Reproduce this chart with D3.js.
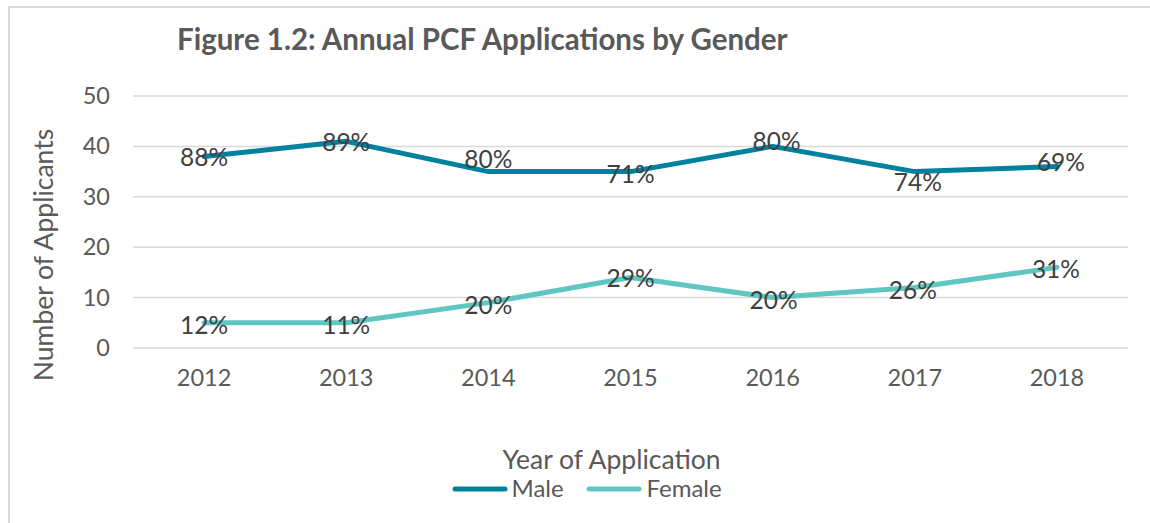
<!DOCTYPE html>
<html><head><meta charset="utf-8">
<script src="https://cdn.jsdelivr.net/npm/d3@7/dist/d3.min.js"></script>
<style>
html,body{margin:0;padding:0;background:#fff;}
svg{display:block;font-family:Lato,"Open Sans",sans-serif;}
</style></head>
<body>
<svg id="chart" width="1150" height="523"></svg>
<script>
const years = ["2012","2013","2014","2015","2016","2017","2018"];
const male = [38,41,35,35,40,35,36];
const female = [5,5,9,14,10,12,16];
const maleLabels = ["88%","89%","80%","71%","80%","74%","69%"];
const femaleLabels = ["12%","11%","20%","29%","20%","26%","31%"];
const yTicks = [0,10,20,30,40,50];
const seriesNames = ["Male","Female"];
const colors = ["#00819e","#5fc6c2"];

const svg = d3.select("#chart");
// outer border
svg.append("path").attr("d","M9,523 V7 H1150").attr("fill","none").attr("stroke","#d9d9d9").attr("stroke-width",2);

const m = {left:133,right:1128,top:96,bottom:348};
const x = d3.scaleBand().domain(years).range([m.left,m.right]);
const y = d3.scaleLinear().domain([0,50]).range([m.bottom,m.top]);

// title
svg.append("text").attr("x",177).attr("y",50).text("Figure 1.2: Annual PCF Applications by Gender")
  .attr("font-size",29.5).attr("font-weight","bold").attr("fill","#595959");

// gridlines
svg.append("g").selectAll("line").data(yTicks).join("line")
  .attr("x1",m.left).attr("x2",m.right).attr("y1",d=>y(d)).attr("y2",d=>y(d))
  .attr("stroke","#d9d9d9").attr("stroke-width",1.5);

// y axis labels
const yAxis = d3.axisLeft(y).tickValues(yTicks).tickSize(0).tickPadding(0);
const gy = svg.append("g").attr("transform",`translate(110,0)`).call(yAxis);
gy.select(".domain").remove();
gy.selectAll("text").attr("font-size",23.5).attr("fill","#595959").attr("font-family","Lato");

// x axis labels
const xAxis = d3.axisBottom(x).tickSize(0).tickPadding(0);
const gx = svg.append("g").attr("transform",`translate(0,369.5)`).call(xAxis);
gx.select(".domain").remove();
gx.selectAll("text").attr("font-size",23.5).attr("fill","#595959").attr("font-family","Lato");

// axis titles
svg.append("text").attr("transform","translate(53,255) rotate(-90)").attr("text-anchor","middle")
  .text("Number of Applicants").attr("font-size",26.5).attr("fill","#595959");
svg.append("text").attr("x",611.5).attr("y",468.5).attr("text-anchor","middle")
  .text("Year of Application").attr("font-size",26.5).attr("fill","#595959");

const line = d3.line().x((d,i)=>x(years[i])+x.bandwidth()/2).y(d=>y(d));
const data = [male,female];
const labels = [maleLabels,femaleLabels];
// manual label nudges (dx, dy) matching the original placement
const nudgeX = [[0,0,0,0,4,3,4],[0,0,0,0,1,-2,-1]];
const nudgeY = [[1,1,-13,2,-5,10,-5],[2,2,2,1,2,2,2]];
data.forEach((s,k)=>{
  svg.append("path").datum(s).attr("d",line).attr("fill","none")
    .attr("stroke",colors[k]).attr("stroke-width",5).attr("stroke-linejoin","round").attr("stroke-linecap","round");
});
data.forEach((s,k)=>{
  svg.append("g").selectAll("text").data(s).join("text")
    .attr("x",(d,i)=>x(years[i])+x.bandwidth()/2+nudgeX[k][i])
    .attr("y",(d,i)=>y(d)+nudgeY[k][i]+9)
    .attr("text-anchor","middle").attr("font-size",24.5).attr("fill","#404040")
    .text((d,i)=>labels[k][i]);
});

// legend
const leg = [{x:455,tx:511.5},{x:589,tx:646.5}];
seriesNames.forEach((n,k)=>{
  svg.append("line").attr("x1",leg[k].x).attr("x2",leg[k].x+50).attr("y1",489).attr("y2",489)
    .attr("stroke",colors[k]).attr("stroke-width",5).attr("stroke-linecap","round");
  svg.append("text").attr("x",leg[k].tx).attr("y",497).text(n).attr("font-size",24).attr("fill","#595959");
});
</script>
</body></html>
